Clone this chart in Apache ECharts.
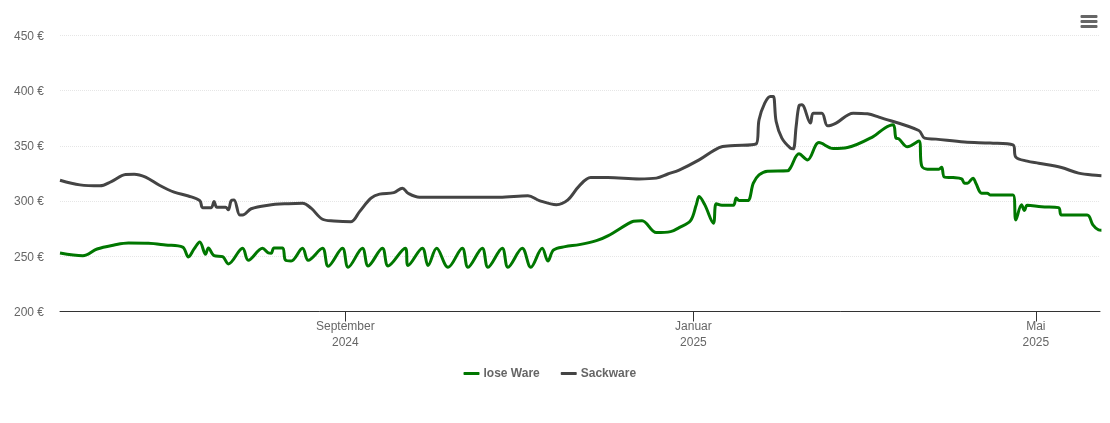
<!DOCTYPE html>
<html>
<head>
    <meta charset="utf-8">
    <script src="https://cdn.jsdelivr.net/npm/echarts@6/dist/echarts.min.js"></script>
    <style>
        html, body { margin: 0; padding: 0; background: #fff; }
        #chart { width: 1110px; height: 423px; }
    </style>
</head>
<body>
<div id="chart"></div>
<script type="text/javascript">
var yTicks = [200, 250, 300, 350, 400, 450];
var xTickDates = ['2024-09-01', '2025-01-01', '2025-05-01'];
var xTickLabels = ['September\n2024', 'Januar\n2025', 'Mai\n2025'];

var loseDates = ['2024-05-24','2024-06-01','2024-06-06','2024-06-12','2024-06-17','2024-06-24','2024-06-30','2024-07-06','2024-07-08','2024-07-10','2024-07-12','2024-07-14','2024-07-15','2024-07-17','2024-07-20','2024-07-22','2024-07-27','2024-07-29','2024-08-03','2024-08-05','2024-08-06','2024-08-07','2024-08-10','2024-08-11','2024-08-13','2024-08-17','2024-08-19','2024-08-24','2024-08-26','2024-08-31','2024-09-02','2024-09-07','2024-09-09','2024-09-14','2024-09-16','2024-09-22','2024-09-23','2024-09-28','2024-09-30','2024-10-03','2024-10-07','2024-10-12','2024-10-14','2024-10-19','2024-10-21','2024-10-26','2024-10-28','2024-11-02','2024-11-05','2024-11-09','2024-11-11','2024-11-13','2024-11-17','2024-11-22','2024-11-28','2024-12-02','2024-12-09','2024-12-11','2024-12-14','2024-12-19','2024-12-24','2024-12-27','2024-12-31','2025-01-02','2025-01-03','2025-01-05','2025-01-08','2025-01-09','2025-01-11','2025-01-15','2025-01-16','2025-01-17','2025-01-20','2025-01-22','2025-01-24','2025-01-27','2025-02-03','2025-02-04','2025-02-07','2025-02-10','2025-02-14','2025-02-19','2025-02-24','2025-03-05','2025-03-09','2025-03-12','2025-03-13','2025-03-14','2025-03-17','2025-03-21','2025-03-22','2025-03-24','2025-03-28','2025-03-29','2025-03-30','2025-04-02','2025-04-05','2025-04-06','2025-04-07','2025-04-09','2025-04-10','2025-04-12','2025-04-14','2025-04-15','2025-04-23','2025-04-24','2025-04-26','2025-04-27','2025-04-28','2025-05-03','2025-05-09','2025-05-10','2025-05-19','2025-05-21','2025-05-23','2025-05-24'];
var loseValues = [253,250.5,256.6,260.2,262,261.8,260.2,258.2,249.4,256.6,263,251.8,257.5,250.5,249.6,243,257.2,246.4,257.2,253,252.7,257.5,257.5,246.6,245.7,257.2,246.4,257.2,241,257.2,240,257.2,241.2,257.2,241.2,257.2,241.7,257.2,241.7,257.2,240,257.2,240,257.2,240,257.2,240,257.2,240,257.2,245.7,255.7,258.7,260.5,264.1,268.4,279.3,281.7,282.2,271.4,272.3,275.9,282.2,296.5,304,296.5,279.9,297.4,296.2,296.2,302.8,300.4,300.4,316.1,323.6,327,327.3,330,342.7,337.2,352.9,347.5,348.4,358.3,365.9,368.9,356.9,356.2,349,354.2,331.8,328.8,328.8,330.6,321.6,321.2,320,316.1,316.1,320.7,316.1,307.1,307.1,305.5,305.5,282.9,296.5,291.3,296.2,294.7,294,287.4,287.4,278.4,273.8,273.5];

var sackDates = ['2024-05-24','2024-05-31','2024-06-07','2024-06-11','2024-06-16','2024-06-19','2024-06-23','2024-06-28','2024-07-03','2024-07-08','2024-07-12','2024-07-13','2024-07-16','2024-07-17','2024-07-18','2024-07-21','2024-07-22','2024-07-23','2024-07-24','2024-07-26','2024-07-27','2024-07-30','2024-08-05','2024-08-12','2024-08-17','2024-08-20','2024-08-24','2024-08-28','2024-09-03','2024-09-06','2024-09-10','2024-09-13','2024-09-18','2024-09-21','2024-09-23','2024-09-27','2024-10-25','2024-11-04','2024-11-08','2024-11-14','2024-11-18','2024-11-22','2024-11-26','2024-12-02','2024-12-13','2024-12-19','2024-12-23','2024-12-27','2025-01-03','2025-01-10','2025-01-14','2025-01-23','2025-01-24','2025-01-26','2025-01-28','2025-01-29','2025-01-30','2025-02-01','2025-02-04','2025-02-05','2025-02-06','2025-02-07','2025-02-08','2025-02-11','2025-02-12','2025-02-15','2025-02-17','2025-02-20','2025-02-26','2025-03-03','2025-03-07','2025-03-21','2025-03-23','2025-03-27','2025-04-06','2025-04-15','2025-04-23','2025-04-24','2025-04-28','2025-05-02','2025-05-10','2025-05-16','2025-05-23','2025-05-24'];
var sackValues = [318.8,314.6,313.7,317.6,324,324.3,321.6,314,308,304.5,300.4,294,294,299.5,294.4,294.4,292,300.4,301,287.4,287.4,293,296.2,297.6,298,293.5,283.5,282,281.3,290.4,302.5,306.2,307.6,311.6,307,303.4,303.4,304.8,300.4,296.7,301,313.7,321.2,321.2,320,320.7,324.4,328,337.2,348.4,350,351.7,373.5,388.6,394.6,394.6,371.9,356.9,347.8,347.2,367.4,386.1,387,370.5,379.5,379.5,368,370.5,379.5,378.9,375.9,363.8,356.9,356,353.3,352.4,350.8,339.7,336.1,334.2,330.3,325.2,323,322.8];

function utc(s) {
    return +new Date(s + 'T00:00:00Z');
}
function pairs(dates, values) {
    return dates.map(function (d, i) { return [utc(d), values[i]]; });
}

var textFont = '"Liberation Sans", Arial, sans-serif';
var xTicks = xTickDates.map(utc);

var myChart = echarts.init(document.getElementById('chart'), null, { renderer: 'canvas' });
var option = {
    animation: false,
    grid: { left: 60, right: 10, top: 35.25, bottom: 111.5 },
    legend: {
        left: 458.5,
        top: 362.5,
        icon: 'roundRect',
        itemWidth: 16,
        itemHeight: 3,
        itemGap: 21,
        textStyle: { fontFamily: textFont, fontSize: 12, fontWeight: 'bold', color: '#666', padding: [0, 0, 0, -1] }
    },
    // Zeitachse als Werteachse mit festen Monats-Ticks
    xAxis: {
        type: 'value',
        min: utc('2024-05-24'),
        max: utc('2025-05-23') + 12 * 3600 * 1000,
        axisLine: { lineStyle: { color: '#333', width: 1 } },
        axisTick: { customValues: xTicks, length: 10, lineStyle: { color: '#333' } },
        axisLabel: {
            customValues: xTicks,
            hideOverlap: false,
            margin: 7,
            lineHeight: 16,
            fontFamily: textFont,
            fontSize: 12,
            color: '#666',
            formatter: function (v) { return xTickLabels[xTicks.indexOf(v)] || ''; }
        },
        splitLine: { show: false }
    },
    yAxis: {
        type: 'value',
        min: 200,
        max: 450,
        interval: 50,
        axisLine: { show: false },
        axisTick: { show: false },
        axisLabel: {
            margin: 16,
            fontFamily: textFont,
            fontSize: 12,
            color: '#666',
            rich: { v: { padding: [2, 0, 0, 0], fontFamily: textFont, fontSize: 12, color: '#666' } },
            formatter: function (v) { return yTicks.indexOf(v) >= 0 ? '{v|' + v + ' €}' : ''; }
        },
        splitLine: { lineStyle: { color: '#e6e6e6', type: 'dotted', width: 1 } }
    },
    series: [
        {
            name: 'lose Ware',
            type: 'line',
            data: pairs(loseDates, loseValues),
            showSymbol: false,
            smooth: 0.35,
            lineStyle: { width: 3, color: '#007700' },
            itemStyle: { color: '#007700' }
        },
        {
            name: 'Sackware',
            type: 'line',
            data: pairs(sackDates, sackValues),
            showSymbol: false,
            smooth: 0.35,
            lineStyle: { width: 3, color: '#444444' },
            itemStyle: { color: '#444444' }
        }
    ],
    // Menü-Symbol oben rechts
    graphic: [
        { type: 'rect', left: 1080.5, top: 15, shape: { width: 17, height: 3, r: 1 }, style: { fill: '#666' } },
        { type: 'rect', left: 1080.5, top: 20, shape: { width: 17, height: 3, r: 1 }, style: { fill: '#666' } },
        { type: 'rect', left: 1080.5, top: 25, shape: { width: 17, height: 3, r: 1 }, style: { fill: '#666' } }
    ]
};
myChart.setOption(option);
</script>
</body>
</html>
